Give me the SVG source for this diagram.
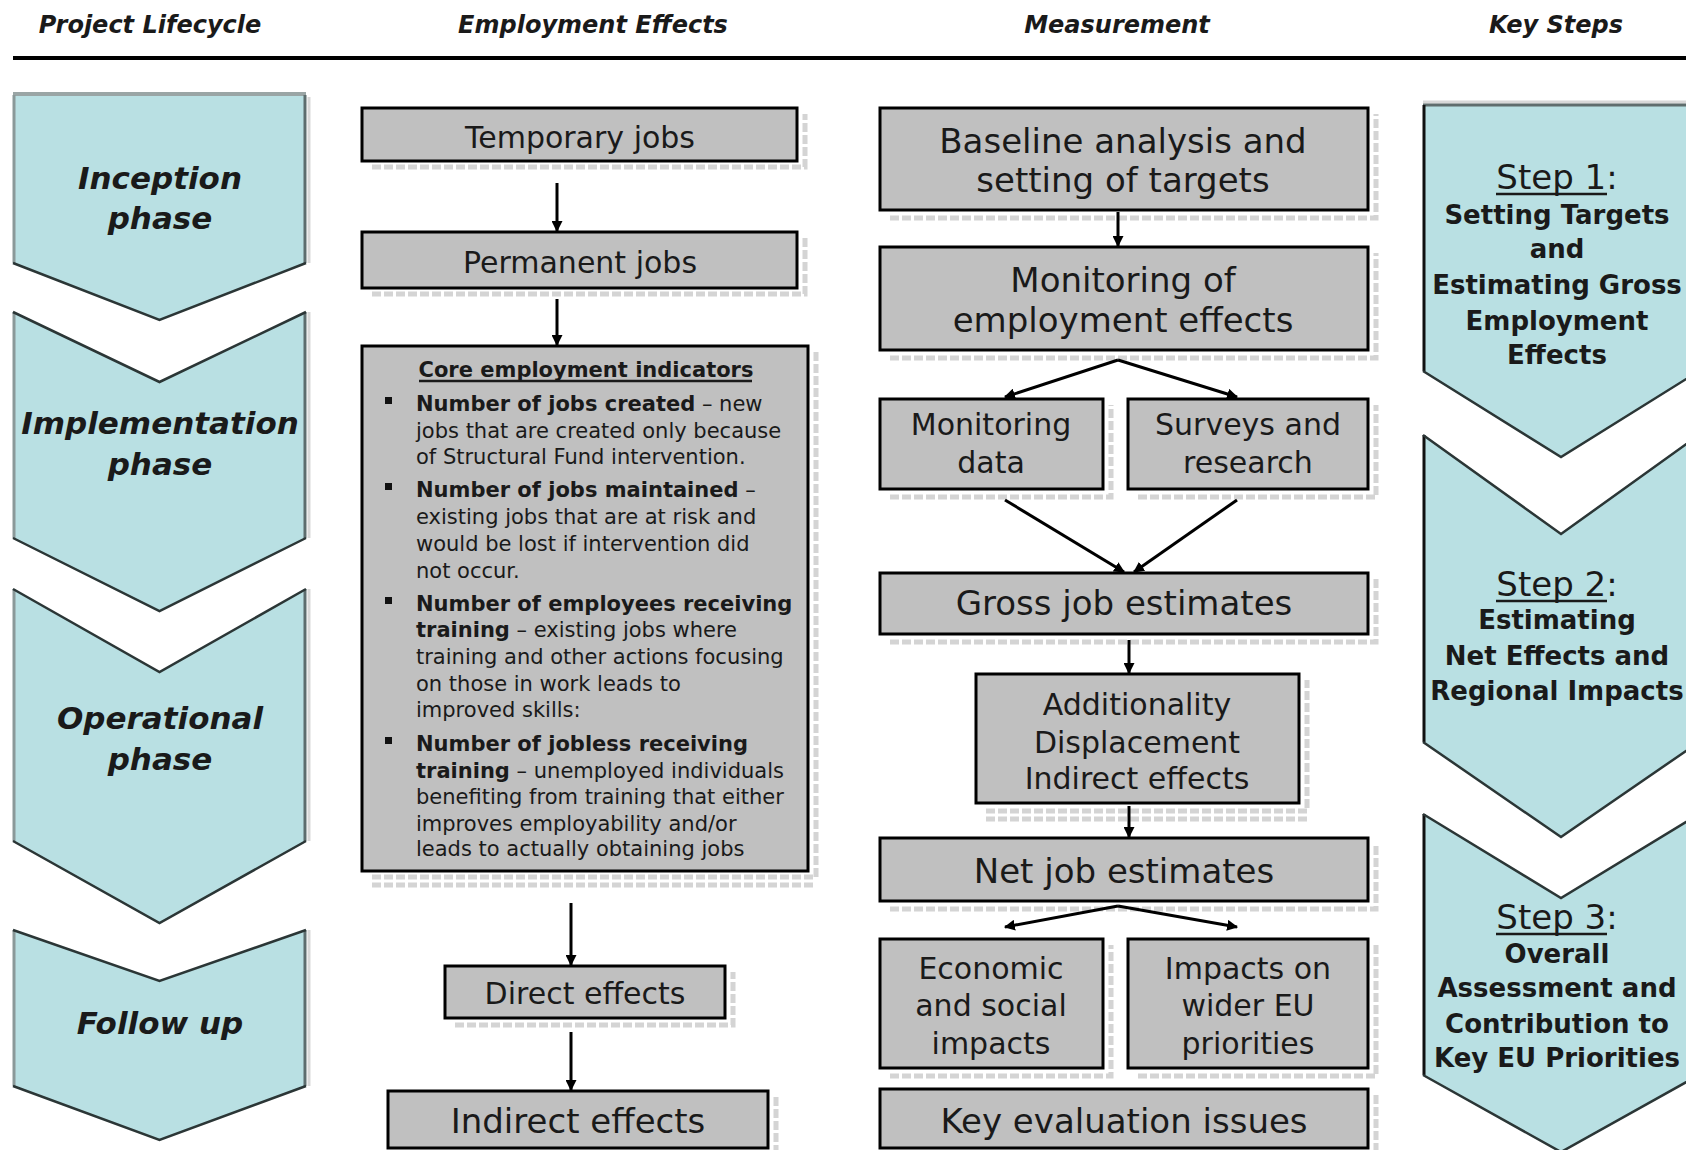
<svg xmlns="http://www.w3.org/2000/svg" width="1686" height="1150" viewBox="0 0 1686 1150">
<defs>
<style>
.box{fill:#c0c0c0;stroke:#000;stroke-width:3}
.sh{stroke:#d4d4d4;stroke-width:5;stroke-dasharray:9 3;fill:none}
.t{font-family:"DejaVu Sans",sans-serif;fill:#1a1a1a;text-anchor:middle}
.hdr{font-family:"DejaVu Sans",sans-serif;font-weight:bold;font-style:italic;font-size:24px;fill:#1a1a1a;text-anchor:middle}
.ph{font-family:"DejaVu Sans",sans-serif;font-weight:bold;font-style:italic;font-size:31px;fill:#1a1a1a;text-anchor:middle}
.st{font-family:"DejaVu Sans",sans-serif;font-size:34px;fill:#1a1a1a;text-anchor:middle}
.sb{font-family:"DejaVu Sans",sans-serif;font-weight:bold;font-size:26px;fill:#1a1a1a;text-anchor:middle}
.core{font-family:"DejaVu Sans",sans-serif;font-size:21px;fill:#1a1a1a}
.chev{fill:#b9e0e3;stroke:none}
.diag{fill:none;stroke:#2b3636;stroke-width:2.5}
.lside{stroke:#8a9999;stroke-width:3}
.rside{stroke:#5d6d6e;stroke-width:3}
.rsh{stroke:#d8d8d8;stroke-width:3}
.kside{stroke:#111;stroke-width:3}
.conn{stroke:#000;stroke-width:3;fill:none;marker-end:url(#ah)}
.ul{stroke:#1a1a1a;stroke-width:2.5}
</style>
<marker id="ah" viewBox="0 0 10 10" refX="9" refY="5" markerWidth="11" markerHeight="11" markerUnits="userSpaceOnUse" orient="auto">
<path d="M0,0 L10,5 L0,10 z" fill="#000"/>
</marker>
</defs>
<rect width="1686" height="1150" fill="#fff"/>

<g id="header">
<text class="hdr" x="150" y="33">Project Lifecycle</text>
<text class="hdr" x="593" y="33">Employment Effects</text>
<text class="hdr" x="1117" y="33">Measurement</text>
<text class="hdr" x="1556" y="33">Key Steps</text>
<line x1="13" y1="58" x2="1686" y2="58" stroke="#000" stroke-width="4"/>
</g>

<g id="phase-inception">
<polygon class="chev" points="13,95 306,95 306,263 159.5,320 13,263"/>
<line x1="13" y1="94" x2="306" y2="94" stroke="#9aa5a5" stroke-width="4"/>
<line class="lside" x1="14" y1="95" x2="14" y2="263"/>
<line class="rside" x1="305" y1="95" x2="305" y2="263"/>
<line class="rsh" x1="309" y1="97" x2="309" y2="263"/>
<polyline class="diag" points="13,263 159.5,320 306,263"/>
<text class="ph" x="160" y="189">Inception</text>
<text class="ph" x="160" y="229">phase</text>
</g>

<g id="phase-implementation">
<polygon class="chev" points="13,312 159.5,382 306,312 306,538 159.5,611 13,538"/>
<line class="lside" x1="14" y1="312" x2="14" y2="538"/>
<line class="rside" x1="305" y1="312" x2="305" y2="538"/>
<line class="rsh" x1="309" y1="312" x2="309" y2="538"/>
<polyline class="diag" points="13,312 159.5,382 306,312"/>
<polyline class="diag" points="13,538 159.5,611 306,538"/>
<text class="ph" x="160" y="434">Implementation</text>
<text class="ph" x="160" y="475">phase</text>
</g>

<g id="phase-operational">
<polygon class="chev" points="13,589 159.5,672 306,589 306,841 159.5,923 13,841"/>
<line class="lside" x1="14" y1="589" x2="14" y2="841"/>
<line class="rside" x1="305" y1="589" x2="305" y2="841"/>
<line class="rsh" x1="309" y1="589" x2="309" y2="841"/>
<polyline class="diag" points="13,589 159.5,672 306,589"/>
<polyline class="diag" points="13,841 159.5,923 306,841"/>
<text class="ph" x="160" y="729">Operational</text>
<text class="ph" x="160" y="770">phase</text>
</g>

<g id="phase-followup">
<polygon class="chev" points="13,930 159.5,981 306,930 306,1086 159.5,1140 13,1086"/>
<line class="lside" x1="14" y1="930" x2="14" y2="1086"/>
<line class="rside" x1="305" y1="930" x2="305" y2="1086"/>
<line class="rsh" x1="309" y1="930" x2="309" y2="1086"/>
<polyline class="diag" points="13,930 159.5,981 306,930"/>
<polyline class="diag" points="13,1086 159.5,1140 306,1086"/>
<text class="ph" x="160" y="1034">Follow up</text>
</g>

<g id="temporary-jobs">
<polyline class="sh" points="372,167 805,167 805,114"/>
<rect class="box" x="362" y="108" width="435" height="53"/>
<text class="t" x="580" y="148" font-size="30">Temporary jobs</text>
</g>

<g id="permanent-jobs">
<polyline class="sh" points="372,294 805,294 805,238"/>
<rect class="box" x="362" y="232" width="435" height="56"/>
<text class="t" x="580" y="273" font-size="30">Permanent jobs</text>
</g>

<g id="core-indicators">
<polyline class="sh" points="372,877 816,877 816,352"/>
<line class="sh" x1="372" y1="885" x2="816" y2="885"/>
<rect class="box" x="362" y="346" width="446" height="525"/>
<text class="core t" x="586" y="377" font-weight="bold">Core employment indicators</text>
<line class="ul" x1="419" y1="381" x2="752" y2="381"/>
<rect x="385" y="397" width="7" height="7" fill="#111"/>
<rect x="385" y="483" width="7" height="7" fill="#111"/>
<rect x="385" y="597" width="7" height="7" fill="#111"/>
<rect x="385" y="737" width="7" height="7" fill="#111"/>
<text class="core" x="416" y="411"><tspan font-weight="bold">Number of jobs created</tspan> – new</text>
<text class="core" x="416" y="438">jobs that are created only because</text>
<text class="core" x="416" y="464">of Structural Fund intervention.</text>
<text class="core" x="416" y="497"><tspan font-weight="bold">Number of jobs maintained</tspan> –</text>
<text class="core" x="416" y="524">existing jobs that are at risk and</text>
<text class="core" x="416" y="551">would be lost if intervention did</text>
<text class="core" x="416" y="578">not occur.</text>
<text class="core" x="416" y="611" font-weight="bold">Number of employees receiving</text>
<text class="core" x="416" y="637"><tspan font-weight="bold">training</tspan> – existing jobs where</text>
<text class="core" x="416" y="664">training and other actions focusing</text>
<text class="core" x="416" y="691">on those in work leads to</text>
<text class="core" x="416" y="717">improved skills:</text>
<text class="core" x="416" y="751" font-weight="bold">Number of jobless receiving</text>
<text class="core" x="416" y="778"><tspan font-weight="bold">training</tspan> – unemployed individuals</text>
<text class="core" x="416" y="804">benefiting from training that either</text>
<text class="core" x="416" y="831">improves employability and/or</text>
<text class="core" x="416" y="856">leads to actually obtaining jobs</text>
</g>

<g id="direct-effects">
<polyline class="sh" points="455,1025 733,1025 733,972"/>
<rect class="box" x="445" y="966" width="280" height="52"/>
<text class="t" x="585" y="1004" font-size="30">Direct effects</text>
</g>

<g id="indirect-effects">
<line class="sh" x1="776" y1="1097" x2="776" y2="1150"/>
<rect class="box" x="388" y="1091" width="380" height="57"/>
<text class="t" x="578" y="1133" font-size="34">Indirect effects</text>
</g>

<g id="baseline">
<polyline class="sh" points="890,218 1376,218 1376,114"/>
<rect class="box" x="880" y="108" width="488" height="102"/>
<text class="t" x="1123" y="153" font-size="34">Baseline analysis and</text>
<text class="t" x="1123" y="192" font-size="34">setting of targets</text>
</g>

<g id="monitoring">
<polyline class="sh" points="890,358 1376,358 1376,253"/>
<rect class="box" x="880" y="247" width="488" height="103"/>
<text class="t" x="1123" y="292" font-size="34">Monitoring of</text>
<text class="t" x="1123" y="332" font-size="34">employment effects</text>
</g>

<g id="monitoring-data">
<polyline class="sh" points="890,497 1111,497 1111,405"/>
<rect class="box" x="880" y="399" width="223" height="90"/>
<text class="t" x="991" y="435" font-size="30">Monitoring</text>
<text class="t" x="991" y="473" font-size="30">data</text>
</g>

<g id="surveys">
<polyline class="sh" points="1138,497 1376,497 1376,405"/>
<rect class="box" x="1128" y="399" width="240" height="90"/>
<text class="t" x="1248" y="435" font-size="30">Surveys and</text>
<text class="t" x="1248" y="473" font-size="30">research</text>
</g>

<g id="gross">
<polyline class="sh" points="890,642 1376,642 1376,579"/>
<rect class="box" x="880" y="573" width="488" height="61"/>
<text class="t" x="1124" y="615" font-size="34">Gross job estimates</text>
</g>

<g id="additionality">
<polyline class="sh" points="986,811 1307,811 1307,680"/>
<line class="sh" x1="986" y1="819" x2="1307" y2="819"/>
<rect class="box" x="976" y="674" width="323" height="129"/>
<text class="t" x="1137" y="715" font-size="30">Additionality</text>
<text class="t" x="1137" y="753" font-size="30">Displacement</text>
<text class="t" x="1137" y="789" font-size="30">Indirect effects</text>
</g>

<g id="net">
<polyline class="sh" points="890,909 1376,909 1376,844"/>
<rect class="box" x="880" y="838" width="488" height="63"/>
<text class="t" x="1124" y="883" font-size="34">Net job estimates</text>
</g>

<g id="economic">
<polyline class="sh" points="890,1076 1111,1076 1111,945"/>
<rect class="box" x="880" y="939" width="223" height="129"/>
<text class="t" x="991" y="979" font-size="30">Economic</text>
<text class="t" x="991" y="1016" font-size="30">and social</text>
<text class="t" x="991" y="1054" font-size="30">impacts</text>
</g>

<g id="impacts-eu">
<polyline class="sh" points="1138,1076 1376,1076 1376,945"/>
<rect class="box" x="1128" y="939" width="240" height="129"/>
<text class="t" x="1248" y="979" font-size="30">Impacts on</text>
<text class="t" x="1248" y="1016" font-size="30">wider EU</text>
<text class="t" x="1248" y="1054" font-size="30">priorities</text>
</g>

<g id="key-evaluation">
<line class="sh" x1="1376" y1="1095" x2="1376" y2="1150"/>
<rect class="box" x="880" y="1089" width="488" height="59"/>
<text class="t" x="1124" y="1133" font-size="34">Key evaluation issues</text>
</g>

<g id="step1">
<polygon class="chev" points="1423,105 1699,105 1699,371 1561,457 1423,371"/>
<line x1="1423" y1="102" x2="1686" y2="102" stroke="#d8d8d8" stroke-width="3"/>
<line x1="1423" y1="105" x2="1686" y2="105" stroke="#5f6d6d" stroke-width="3"/>
<line class="kside" x1="1424" y1="105" x2="1424" y2="371"/>
<polyline class="diag" points="1423,371 1561,457 1699,371"/>
<text class="st" x="1557" y="189">Step 1:</text>
<line class="ul" x1="1496" y1="194" x2="1607" y2="194"/>
<text class="sb" x="1557" y="224">Setting Targets</text>
<text class="sb" x="1557" y="258">and</text>
<text class="sb" x="1557" y="294">Estimating Gross</text>
<text class="sb" x="1557" y="330">Employment</text>
<text class="sb" x="1557" y="364">Effects</text>
</g>

<g id="step2">
<polygon class="chev" points="1423,435 1561,534 1699,435 1699,742 1561,837 1423,742"/>
<line class="kside" x1="1424" y1="435" x2="1424" y2="742"/>
<polyline class="diag" points="1423,435 1561,534 1699,435"/>
<polyline class="diag" points="1423,742 1561,837 1699,742"/>
<text class="st" x="1557" y="596">Step 2:</text>
<line class="ul" x1="1496" y1="601" x2="1607" y2="601"/>
<text class="sb" x="1557" y="629">Estimating</text>
<text class="sb" x="1557" y="665">Net Effects and</text>
<text class="sb" x="1557" y="700">Regional Impacts</text>
</g>

<g id="step3">
<polygon class="chev" points="1423,814 1561,898 1699,814 1699,1075 1561,1152 1423,1075"/>
<line class="kside" x1="1424" y1="814" x2="1424" y2="1075"/>
<polyline class="diag" points="1423,814 1561,898 1699,814"/>
<polyline class="diag" points="1423,1075 1561,1152 1699,1075"/>
<text class="st" x="1557" y="929">Step 3:</text>
<line class="ul" x1="1496" y1="934" x2="1607" y2="934"/>
<text class="sb" x="1557" y="963">Overall</text>
<text class="sb" x="1557" y="997">Assessment and</text>
<text class="sb" x="1557" y="1033">Contribution to</text>
<text class="sb" x="1557" y="1067">Key EU Priorities</text>
</g>

<g id="connectors">
<line class="conn" x1="557" y1="183" x2="557" y2="231"/>
<line class="conn" x1="557" y1="299" x2="557" y2="345"/>
<line class="conn" x1="571" y1="903" x2="571" y2="965"/>
<line class="conn" x1="571" y1="1032" x2="571" y2="1090"/>
<line class="conn" x1="1118" y1="212" x2="1118" y2="246"/>
<line class="conn" x1="1118" y1="360" x2="1005" y2="397"/>
<line class="conn" x1="1118" y1="360" x2="1237" y2="397"/>
<line class="conn" x1="1005" y1="500" x2="1124" y2="572"/>
<line class="conn" x1="1237" y1="500" x2="1134" y2="572"/>
<line class="conn" x1="1129" y1="640" x2="1129" y2="673"/>
<line class="conn" x1="1129" y1="806" x2="1129" y2="837"/>
<line class="conn" x1="1118" y1="906" x2="1005" y2="927"/>
<line class="conn" x1="1118" y1="906" x2="1237" y2="927"/>
</g>
</svg>
